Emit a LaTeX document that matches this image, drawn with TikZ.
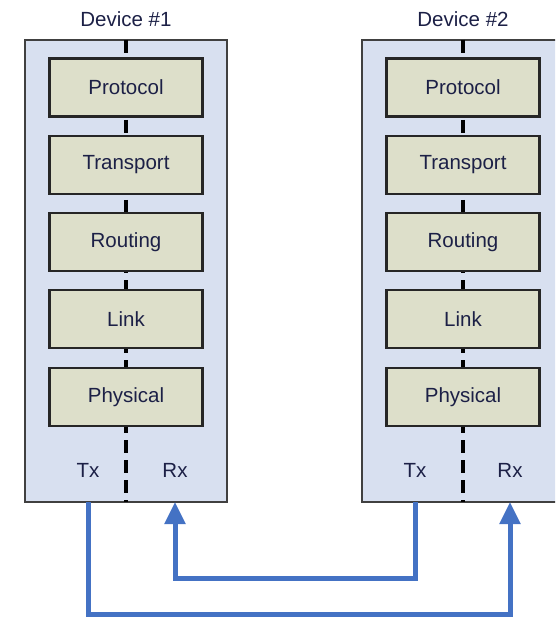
\documentclass[tikz,border=0pt]{standalone}
\usepackage{fontspec}
\setmainfont{Liberation Sans}
\usepackage{tikz}
\usetikzlibrary{arrows.meta,calc}
\definecolor{devfill}{RGB}{216,224,240}
\definecolor{layerfill}{RGB}{221,223,202}
\definecolor{navy}{RGB}{28,32,70}
\definecolor{linkblue}{RGB}{68,114,196}

\begin{document}
\begin{tikzpicture}[
  x=1pt,y=-1pt,
  font=\fontsize{20.5}{23}\selectfont,
  every node/.style={text=navy},
  device/.style={draw=black!75,line width=2.2pt,fill=devfill,inner sep=0pt,outer sep=0pt,
                 minimum width=202pt,minimum height=462pt},
  layer/.style={draw=black!85,line width=2.4pt,fill=layerfill,inner sep=0pt,
                minimum width=153pt,minimum height=58pt},
  stack/.style={black,line width=3.4pt,dash pattern=on 13pt off 7pt},
  link/.style={-{Triangle[width=20pt,length=22pt]},linkblue,line width=5pt},
]
\useasboundingbox (0,0) rectangle (555,620);
\clip (0,0) rectangle (555,620);

% devices
\node[device] (dev1) at (126,271) {};
\node[device] (dev2) at (463,271) {};
\node (lbl1) at (126,19) {Device \#1};
\node (lbl2) at (463,19) {Device \#2};

\draw[stack] (dev1.north) -- (dev1.south);
\draw[stack] (dev2.north) -- (dev2.south);

% layers, device 1
\node[layer] (prot1) at (126,87.5) {Protocol};
\node[layer] (tran1) at (126,165) {Transport};
\node[layer] (rout1) at (126,242) {Routing};
\node[layer] (link1) at (126,319) {Link};
\node[layer] (phys1) at (126,397) {Physical};
% layers, device 2
\node[layer] (prot2) at (463,87.5) {Protocol};
\node[layer] (tran2) at (463,165) {Transport};
\node[layer] (rout2) at (463,242) {Routing};
\node[layer] (link2) at (463,319) {Link};
\node[layer] (phys2) at (463,397) {Physical};

\node (tx1) at (88,470) {Tx};
\node (rx1) at (175,470) {Rx};
\node (tx2) at (415,470) {Tx};
\node (rx2) at (510,470) {Rx};

% links
\draw[link] (tx1 |- dev1.south) -- ++(0,112) -| (rx2 |- dev2.south);
\draw[link] (tx2 |- dev2.south) -- ++(0,76) -| (rx1 |- dev1.south);
\end{tikzpicture}
\end{document}
